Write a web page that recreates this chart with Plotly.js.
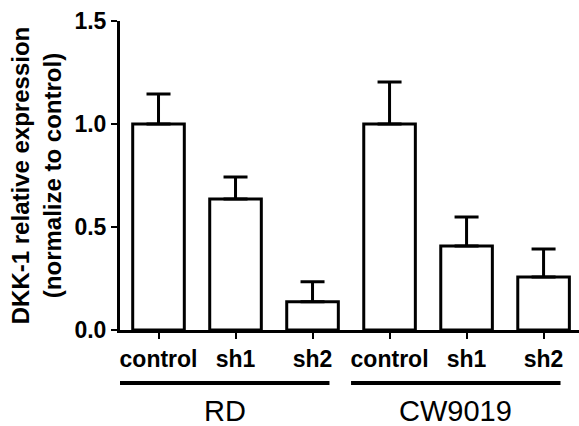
<!DOCTYPE html>
<html>
<head>
<meta charset="utf-8">
<script src="https://cdn.plot.ly/plotly-3.0.1.min.js"></script>
<style>html,body{margin:0;padding:0;background:#fff;}#chart{width:579px;height:426px;}</style>
</head>
<body>
<div id="chart"></div>
<script>
// Data
const categories = ['control', 'sh1', 'sh2', 'control', 'sh1', 'sh2'];
const values = [1.0, 0.636, 0.137, 1.0, 0.408, 0.257];
const errorsUp = [0.146, 0.107, 0.097, 0.204, 0.141, 0.136];
const groupNames = ['RD', 'CW9019'];
const groupStart = [0, 3];
const groupEnd = [2, 5];
const yTickVals = [0, 0.5, 1.0, 1.5];
const yTickText = ['0.0', '0.5', '1.0', '1.5'];

const xPos = categories.map((c, i) => i);

const trace = {
  type: 'bar',
  x: xPos,
  y: values,
  width: 0.67,
  marker: {color: '#ffffff', line: {color: '#000000', width: 3}},
  error_y: {
    type: 'data', symmetric: false,
    array: errorsUp,
    arrayminus: values.map(() => 0),
    color: '#000000', thickness: 3, width: 12
  },
  hoverinfo: 'none'
};

const shapes = [];
const annotations = [];
groupNames.forEach((g, i) => {
  const x0 = groupStart[i] - 0.5;
  const x1 = groupEnd[i] + 0.22;
  shapes.push({type: 'line', xref: 'x', yref: 'paper', x0: x0, x1: x1,
    y0: -0.1715, y1: -0.1715, line: {color: '#000', width: 4}});
  annotations.push({xref: 'x', yref: 'paper', x: (x0 + x1) / 2, y: -0.262,
    yanchor: 'middle', xanchor: 'center', showarrow: false, text: g,
    font: {family: 'Liberation Sans, Arial, sans-serif', size: 29, color: '#000'}});
});

const layout = {
  width: 579, height: 426,
  margin: {l: 120, r: 0, t: 21, b: 96, pad: 0},
  paper_bgcolor: '#fff', plot_bgcolor: '#fff',
  showlegend: false,
  font: {family: 'Liberation Sans, Arial, sans-serif', color: '#000'},
  xaxis: {
    range: [-0.5, 5.46], tickmode: 'array', tickvals: xPos, ticktext: categories,
    showline: true, linewidth: 3, linecolor: '#000', ticks: 'outside', ticklen: 6,
    tickwidth: 2, tickcolor: '#000', showgrid: false, zeroline: false,
    tickfont: {family: 'Liberation Sans, Arial, sans-serif', size: 23, color: '#000', weight: 'bold'},
    fixedrange: true
  },
  yaxis: {
    range: [0, 1.5], tickmode: 'array', tickvals: yTickVals, ticktext: yTickText,
    showline: true, linewidth: 3, linecolor: '#000', ticks: 'outside', ticklen: 6,
    tickwidth: 2, tickcolor: '#000', showgrid: false, zeroline: false,
    tickfont: {family: 'Liberation Sans, Arial, sans-serif', size: 23, color: '#000', weight: 'bold'},
    title: {text: 'DKK-1 relative expression<br>(normalize to control)', standoff: 7,
      font: {family: 'Liberation Sans, Arial, sans-serif', size: 24, color: '#000', weight: 'bold'}},
    fixedrange: true
  },
  shapes: shapes,
  annotations: annotations
};

Plotly.newPlot('chart', [trace], layout, {staticPlot: true});
</script>
</body>
</html>
